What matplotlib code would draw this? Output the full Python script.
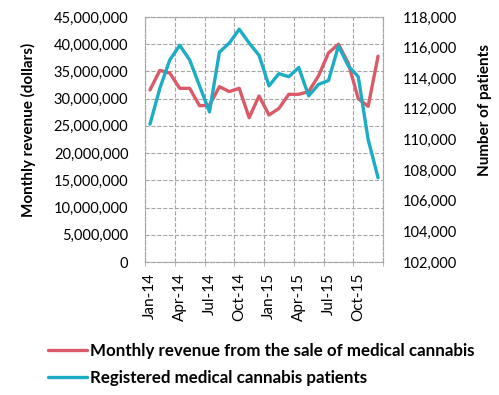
import matplotlib.pyplot as plt
from matplotlib.ticker import FuncFormatter, MultipleLocator, FixedLocator

plt.rcParams['font.family'] = ['Lato', 'DejaVu Sans']

months = ["Jan-14", "Feb-14", "Mar-14", "Apr-14", "May-14", "Jun-14",
          "Jul-14", "Aug-14", "Sep-14", "Oct-14", "Nov-14", "Dec-14",
          "Jan-15", "Feb-15", "Mar-15", "Apr-15", "May-15", "Jun-15",
          "Jul-15", "Aug-15", "Sep-15", "Oct-15", "Nov-15", "Dec-15"]

# monthly revenue, dollars
revenue = [31.6e6, 35.2e6, 34.7e6, 31.9e6, 31.9e6, 28.7e6,
           28.8e6, 32.2e6, 31.3e6, 31.9e6, 26.5e6, 30.5e6,
           27.0e6, 28.2e6, 30.8e6, 30.8e6, 31.3e6, 34.2e6,
           38.4e6, 40.0e6, 36.5e6, 30.0e6, 28.6e6, 37.8e6]

# registered patients
patients = [111000, 113350, 115200, 116150, 115200, 113500,
            111800, 115700, 116300, 117200, 116300, 115500,
            113500, 114300, 114100, 114700, 112850, 113600,
            113850, 116100, 114800, 114100, 110000, 107500]

red = '#DA5A6A'
teal = '#1AADC3'
grid_col = '#A6A6A6'

fig = plt.figure(figsize=(4.99, 3.95), dpi=100)
ax = fig.add_axes([0.2906, 0.3367, 0.4770, 0.6203])
ax2 = ax.twinx()

x = list(range(len(months)))
l1, = ax.plot(x, revenue, color=red, lw=2.4, solid_capstyle='round')
l2, = ax2.plot(x, patients, color=teal, lw=2.4, solid_capstyle='round')

ax.set_xlim(-0.5, len(months) - 0.5)
ax.set_ylim(0, 45e6)
ax.yaxis.set_major_locator(MultipleLocator(5e6))
ax.yaxis.set_major_formatter(FuncFormatter(lambda v, p: f"{int(v):,}"))
ax2.set_ylim(102000, 118000)
ax2.yaxis.set_major_locator(MultipleLocator(2000))
ax2.yaxis.set_major_formatter(FuncFormatter(lambda v, p: f"{int(v):,}"))

ax.set_xticks(x[::3])
ax.set_xticklabels(months[::3], rotation=90)
ax.xaxis.set_minor_locator(FixedLocator([i - 0.5 for i in range(0, 25, 3)]))
ax.grid(True, which='minor', axis='x', color=grid_col, ls='--', lw=0.8)
ax.grid(True, which='major', axis='y', color=grid_col, ls='--', lw=0.8)
ax.tick_params(axis='x', which='major', length=0, pad=8, labelsize=11)
ax.tick_params(axis='x', which='minor', length=3, color=grid_col)
ax.tick_params(axis='y', length=0, pad=12, labelsize=10.5)
ax2.tick_params(axis='y', length=0, pad=14, labelsize=10.5)

for a in (ax, ax2):
    for s in a.spines.values():
        s.set_color(grid_col)
        s.set_linestyle('--')
        s.set_linewidth(0.8)

ax.set_ylabel("Monthly revenue (dollars)", fontsize=11, fontweight='bold')
ax2.set_ylabel("Number of patients", fontsize=11, fontweight='bold')
ax.yaxis.set_label_coords(-0.46, 0.54)
ax2.yaxis.set_label_coords(1.40, 0.62)

fig.legend([l1, l2], ["Monthly revenue from the sale of medical cannabis",
                      "Registered medical cannabis patients"],
           loc='upper left', bbox_to_anchor=(0.065, 0.17), frameon=False,
           prop={'weight': 'bold', 'size': 12.2},
           handlelength=2.3, handletextpad=0.2, labelspacing=0.62)

fig.savefig("out.png", dpi=100)
